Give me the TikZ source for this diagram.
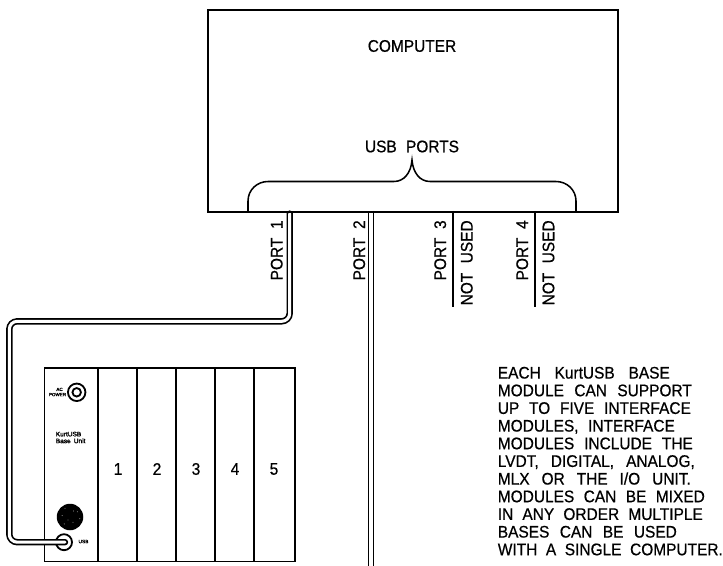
\documentclass[tikz,border=0pt]{standalone}
\usepackage{fontspec}
\setmainfont[FakeStretch=0.92,FakeBold=0.6]{Liberation Sans}
\newfontfamily\smallcad[FakeBold=2.2]{Liberation Sans}
\newcommand\noteline[2]{\makebox[\dimexpr#1pt*3/4\relax][s]{#2}}
\begin{document}
\begin{tikzpicture}[x=0.75pt,y=-0.75pt,line width=1.25pt,
  lbl/.style={inner sep=0pt,font=\fontsize{12.6}{14}\selectfont},
  tinytext/.style={inner sep=0pt,align=center,font=\smallcad\fontsize{3.4}{3.9}\selectfont},
  cable/.style={line width=1.25pt,double distance=2.3pt,rounded corners=6pt},
  boxline/.style={draw,inner sep=0pt,anchor=north west,line width=1.35pt}]
\useasboundingbox (0,0) rectangle (723,566);
% base unit
\node[boxline,line width=1.25pt,minimum width=250.5*0.75pt,minimum height=193.5*0.75pt] (base) at (43.5,367.3) {};
\foreach \x in {97.7,137,176,215,254} \draw (\x,367.3) -- (\x,560.8);
\foreach \x/\n in {118/1,157/2,196/3,235/4,274/5} \node[lbl] (n\n) at (\x,469) {\n};
% power
\node[circle,draw,line width=1.35pt,minimum size=17.5*0.75pt,inner sep=0pt] (pwr) at (76.7,392.3) {};
\node[circle,draw,line width=1.35pt,minimum size=8.5*0.75pt,inner sep=0pt] (pwri) at (76.7,392.3) {};
\node[tinytext] (pwrt) at (57.5,392) {\hspace*{0.9em}AC\\POWER};
\node[inner sep=0pt,align=left,anchor=west,font=\smallcad\fontsize{4.9}{5.1}\selectfont] (kurt) at (55,437.5) {KurtUSB\\Base\hspace{0.2em} Unit};
% disc
\node[circle,fill=black,minimum size=26.5*0.75pt,inner sep=0pt] (disc) at (70,517) {};
\foreach \a/\r in {35/9,60/7,120/10,170/8,230/9,300/6,350/10} \fill[white] (70,517) ++(\a:\r*0.75pt) circle (0.3pt);
\fill[white] (68,520) circle (0.25pt);
% usb connector
\node[circle,draw,fill=white,minimum size=16*0.75pt,inner sep=0pt,line width=1.35pt] (usb) at (64,542.2) {};
\node[tinytext,font=\smallcad\fontsize{3.6}{4}\selectfont] (usbt) at (83.5,541.5) {USB};
% cables
\coordinate (p1) at (289.7,213.6);
\coordinate (e1) at (65,542.2);
\draw[cable,line cap=round] (p1) -- (289.7,321.3) -- (9.3,321.3) -- (9.3,542.2) -- (e1);
\coordinate (p2) at (371,211);
\coordinate (p2e) at (371,566);
\draw[line width=1.25pt,double distance=2.6pt] (p2) -- (p2e);
\coordinate (p3) at (452.7,211); \coordinate (p3e) at (452.7,306.7);
\coordinate (p4) at (535,211); \coordinate (p4e) at (535,306.7);
\draw (p3) -- (p3e) (p4) -- (p4e);
% computer
\node[boxline,minimum width=410*0.75pt,minimum height=201.8*0.75pt] (computer) at (207,9.5) {};
\node[lbl] (ctext) at (412,46) {COMPUTER};
\node[lbl] (utext) at (412,146.5) {\noteline{94}{USB PORTS}};
\draw[line width=1.15pt] (248,211.3) -- (248,201) .. controls (248,190) and (257,181.5) .. (268,181.5) -- (394,181.5) .. controls (404,181.5) and (411,173) .. (412,160) .. controls (413,173) and (420,181.5) .. (430,181.5) -- (556,181.5) .. controls (567,181.5) and (576,190) .. (576,201) -- (576,211.3);
% rotated labels
\node[lbl,rotate=90,anchor=south east] (l1) at (283.5,219.5) {\noteline{60}{PORT 1}};
\node[lbl,rotate=90,anchor=south east] (l2) at (366,219.5) {\noteline{60}{PORT 2}};
\node[lbl,rotate=90,anchor=south east] (l3) at (447,219.5) {\noteline{60}{PORT 3}};
\node[lbl,rotate=90,anchor=south east] (l4) at (529,219.5) {\noteline{60}{PORT 4}};
\node[lbl,rotate=90,anchor=north east] (u3) at (460,219.5) {\noteline{85}{NOT USED}};
\node[lbl,rotate=90,anchor=north east] (u4) at (541.7,219.5) {\noteline{85}{NOT USED}};
\node[anchor=north west,inner sep=0pt,align=left,font=\fontsize{12.6}{13.25}\selectfont] (note) at (497,366) {\noteline{172}{EACH KurtUSB BASE}\\\noteline{194}{MODULE CAN SUPPORT}\\\noteline{193}{UP TO FIVE INTERFACE}\\\noteline{177}{MODULES, INTERFACE}\\\noteline{195}{MODULES INCLUDE THE}\\\noteline{197}{LVDT, DIGITAL, ANALOG,}\\\noteline{193}{MLX OR THE I/O UNIT.}\\\noteline{207}{MODULES CAN BE MIXED}\\\noteline{205}{IN ANY ORDER MULTIPLE}\\\noteline{179}{BASES CAN BE USED}\\\noteline{225}{WITH A SINGLE COMPUTER.}};
\end{tikzpicture}
\end{document}
